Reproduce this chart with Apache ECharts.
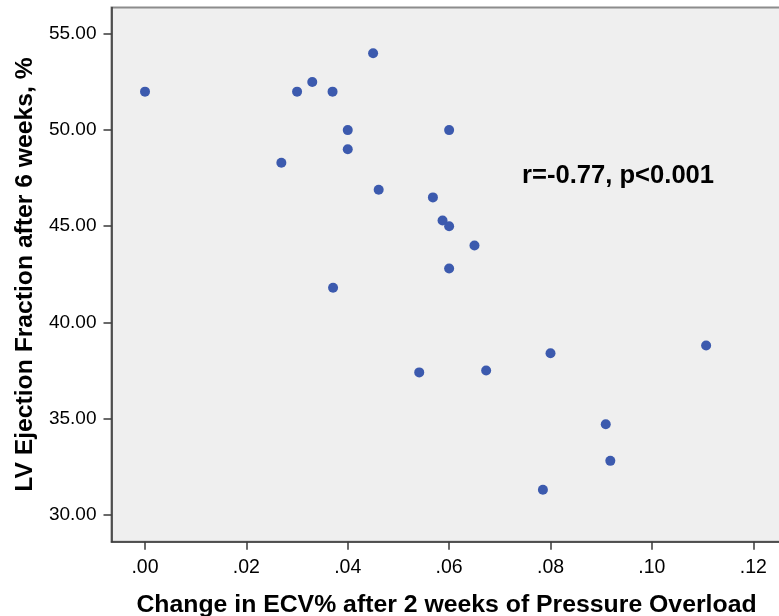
<!DOCTYPE html>
<html>
<head>
<meta charset="utf-8">
<script src="https://cdn.jsdelivr.net/npm/echarts@6/dist/echarts.min.js"></script>
<style>
  html, body { margin: 0; padding: 0; background: #ffffff; }
  #chart { width: 779px; height: 616px; }
</style>
</head>
<body>
<div id="chart"></div>
<script>
// Change in ECV% after 2 weeks of pressure overload (x) vs LV ejection fraction at 6 weeks (y)
const ecvChange = [0.0000, 0.0300, 0.0330, 0.0370, 0.0450, 0.0400, 0.0400, 0.0269, 0.0600, 0.0461,
                   0.0568, 0.0587, 0.0600, 0.0650, 0.0600, 0.0371, 0.0541, 0.0673, 0.0800, 0.1107,
                   0.0909, 0.0918, 0.0785];
const lvef      = [52.0, 52.0, 52.5, 52.0, 54.0, 50.0, 49.0, 48.3, 50.0, 46.9,
                   46.5, 45.3, 45.0, 44.0, 42.8, 41.8, 37.4, 37.5, 38.4, 38.8,
                   34.7, 32.8, 31.3];

const xTicks = [0, 0.02, 0.04, 0.06, 0.08, 0.10, 0.12];
const yTicks = [30, 35, 40, 45, 50, 55];

const xTitle = 'Change in ECV% after 2 weeks of Pressure Overload';
const yTitle = 'LV Ejection Fraction after 6 weeks, %';
const statText = 'r=-0.77, p<0.001';

const points = ecvChange.map((v, i) => [v, lvef[i]]);

const FONT = 'Arial, "Liberation Sans", Helvetica, sans-serif';
const AXIS_COLOR = '#3a3a3a';

const chart = echarts.init(document.getElementById('chart'), null, { renderer: 'canvas' });

chart.setOption({
  animation: false,
  backgroundColor: '#ffffff',
  grid: {
    left: 111.5,
    top: 7.5,
    width: 670,
    height: 534.2,
    containLabel: false,
    outerBoundsMode: 'none',
    show: true,
    backgroundColor: '#efefef',
    borderColor: '#8c8c8c',
    borderWidth: 2
  },
  xAxis: {
    type: 'value',
    min: -0.00661,
    max: 0.12557,
    name: xTitle,
    nameLocation: 'middle',
    nameGap: 51,
    nameTextStyle: { fontFamily: FONT, fontWeight: 'bold', fontSize: 24.8, color: '#000' },
    axisLine: { show: true, onZero: false, lineStyle: { color: AXIS_COLOR, width: 1.5 } },
    axisTick: { show: true, inside: false, length: 8, customValues: xTicks,
                lineStyle: { color: AXIS_COLOR, width: 1.5 } },
    axisLabel: { show: true, customValues: xTicks, margin: 16,
                 fontFamily: FONT, fontSize: 19.5, color: '#000',
                 formatter: v => v.toFixed(2).replace(/^0/, '') },
    splitLine: { show: false }
  },
  yAxis: {
    type: 'value',
    min: 28.596,
    max: 56.375,
    name: yTitle,
    nameLocation: 'middle',
    nameGap: 73,
    nameTextStyle: { fontFamily: FONT, fontWeight: 'bold', fontSize: 24.7, color: '#000' },
    axisLine: { show: true, onZero: false, lineStyle: { color: AXIS_COLOR, width: 1.5 } },
    axisTick: { show: true, inside: false, length: 8, customValues: yTicks,
                lineStyle: { color: AXIS_COLOR, width: 1.5 } },
    axisLabel: { show: true, customValues: yTicks, margin: 15, padding: [3, 0, 0, 0],
                 fontFamily: FONT, fontSize: 19, color: '#000',
                 formatter: v => v.toFixed(2) },
    splitLine: { show: false }
  },
  series: [{
    type: 'scatter',
    data: points,
    symbol: 'circle',
    symbolSize: 10,
    itemStyle: { color: '#3c5aae', opacity: 1 },
    emphasis: { disabled: true }
  }],
  graphic: [{
    type: 'text',
    left: 522,
    top: 163,
    style: {
      text: statText,
      font: 'bold 25.6px ' + FONT,
      fill: '#000'
    }
  }]
});
</script>
</body>
</html>
